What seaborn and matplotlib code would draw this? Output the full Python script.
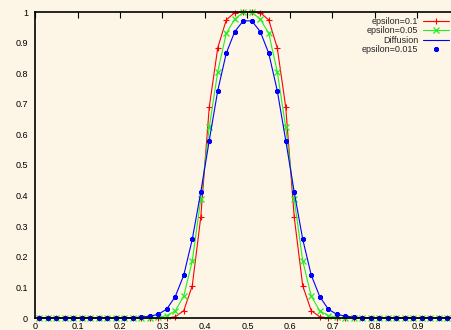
import matplotlib
matplotlib.use("Agg")
import matplotlib.pyplot as plt
import numpy as np
import pandas as pd
import seaborn as sns


# cell-centred grid, 50 cells on [0, 1]
x = np.linspace(0.01, 0.99, 50)

eps_01 = [0.0] * 16 + [
    0.004, 0.024, 0.105, 0.329, 0.689, 0.883, 0.974, 0.998, 1.0,
    1.0, 0.998, 0.974, 0.883, 0.689, 0.329, 0.105, 0.024, 0.004,
] + [0.0] * 16

eps_005 = [0.0] * 14 + [
    0.002, 0.008, 0.023, 0.072, 0.186, 0.388, 0.623, 0.805, 0.930, 0.977, 0.999,
    0.999, 0.977, 0.930, 0.805, 0.623, 0.388, 0.186, 0.072, 0.023, 0.008, 0.002,
] + [0.0] * 14

diffusion = [0.0] * 11 + [
    0.001, 0.003, 0.006, 0.012, 0.029, 0.070, 0.140, 0.257, 0.411, 0.580,
    0.743, 0.865, 0.936, 0.971,
    0.971, 0.936, 0.865, 0.743,
    0.580, 0.411, 0.257, 0.140, 0.070, 0.029, 0.012, 0.006, 0.003, 0.001,
] + [0.0] * 11

eps_0015 = list(diffusion)

x_ticks = [0, 0.1, 0.2, 0.3, 0.4, 0.5, 0.6, 0.7, 0.8, 0.9]
x_ticklabels = ["0", "0.1", "0.2", "0.3", "0.4", "0.5", "0.6", "0.7", "0.8", "0.9"]
y_ticks = [0, 0.1, 0.2, 0.3, 0.4, 0.5, 0.6, 0.7, 0.8, 0.9, 1.0]
y_ticklabels = ["0", "0.1", "0.2", "0.3", "0.4", "0.5", "0.6", "0.7", "0.8", "0.9", "1"]

bg = "#fdf5e6"
red, green, blue = "#ff0000", "#22ee22", "#0000ff"

sns.set_theme(style="white")
plt.rcParams["font.family"] = ["Liberation Sans", "DejaVu Sans"]

df = pd.DataFrame({"x": x, "eps_01": eps_01, "eps_005": eps_005,
                   "diffusion": diffusion, "eps_0015": eps_0015})

fig = plt.figure(figsize=(4.52, 3.30), dpi=100, facecolor=bg)
ax = fig.add_axes([35 / 452, 12 / 330, 425 / 452, 306 / 330])
ax.set_facecolor(bg)

sns.lineplot(data=df, x="x", y="eps_01", ax=ax, color=red, linewidth=0.8,
             marker="+", markersize=4.5, markeredgewidth=0.8, markeredgecolor=red,
             clip_on=False, label="epsilon=0.1")
sns.lineplot(data=df, x="x", y="eps_005", ax=ax, color=green, linewidth=0.8,
             marker="x", markersize=3.8, markeredgewidth=0.9, markeredgecolor=green,
             clip_on=False, label="epsilon=0.05")
sns.lineplot(data=df, x="x", y="diffusion", ax=ax, color=blue, linewidth=0.8,
             clip_on=False, label="Diffusion")
sns.lineplot(data=df, x="x", y="eps_0015", ax=ax, color=blue, linestyle="",
             marker=(8, 2, 0), markersize=3.5, markeredgewidth=1.0,
             markeredgecolor=blue, clip_on=False, label="epsilon=0.015")

ax.set_xlim(0, 1)
ax.set_ylim(0, 1)
ax.set_xticks(x_ticks)
ax.set_xticklabels(x_ticklabels)
ax.set_yticks(y_ticks)
ax.set_yticklabels(y_ticklabels)
ax.set_xlabel("")
ax.set_ylabel("")

ax.tick_params(direction="in", length=4, width=0.8, top=True, right=True,
               labelsize=6.5, colors="black")
ax.tick_params(axis="x", pad=3)
ax.tick_params(axis="y", pad=5)
for sp in ax.spines.values():
    sp.set_visible(True)
    sp.set_color("black")
    sp.set_linewidth(1.2)

ax.legend(loc="upper right", bbox_to_anchor=(449 / 452, 1 - 17 / 330),
          bbox_transform=fig.transFigure, frameon=False, markerfirst=False,
          fontsize=6.5, handlelength=2.9, handletextpad=0.5, labelspacing=0.05,
          borderpad=0, borderaxespad=0)

fig.savefig("out.png", dpi=100, facecolor=bg)
